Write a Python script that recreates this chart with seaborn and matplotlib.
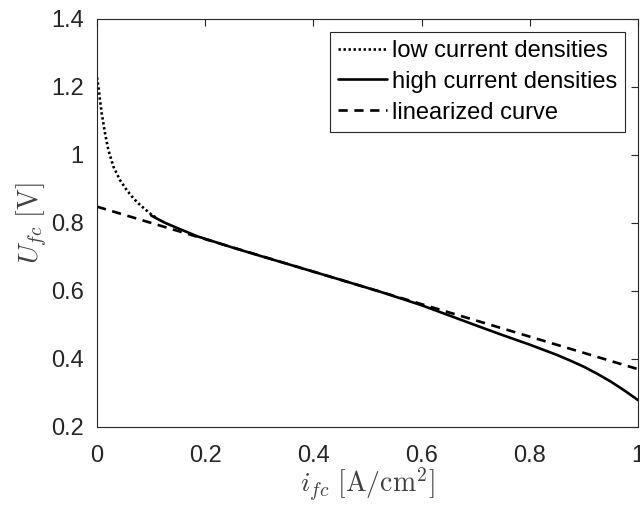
import matplotlib
matplotlib.use("Agg")
import matplotlib.pyplot as plt
import seaborn as sns
import pandas as pd

# Polarization curve of the fuel cell, read as sample points
low_i = [0.0, 0.0025, 0.0055, 0.0086, 0.0148, 0.0209, 0.0302, 0.0425, 0.0548, 0.0671, 0.0795, 0.101, 0.11]
low_u = [1.228, 1.201, 1.162, 1.123, 1.064, 1.015, 0.966, 0.926, 0.897, 0.873, 0.853, 0.824, 0.815]

high_i = [0.10, 0.125, 0.15, 0.185, 0.25, 0.30, 0.37, 0.45, 0.523, 0.60, 0.70, 0.75, 0.80,
          0.85, 0.875, 0.90, 0.925, 0.95, 0.975, 1.00]
high_u = [0.822, 0.801, 0.784, 0.761, 0.728, 0.704, 0.671, 0.633, 0.598, 0.558, 0.499, 0.470, 0.442,
          0.412, 0.395, 0.377, 0.356, 0.333, 0.307, 0.279]

lin_i = [0.0, 1.0]
lin_u = [0.848, 0.370]

x_ticks = [0, 0.2, 0.4, 0.6, 0.8, 1]
x_labels = ["0", "0.2", "0.4", "0.6", "0.8", "1"]
y_ticks = [0.2, 0.4, 0.6, 0.8, 1.0, 1.2, 1.4]
y_labels = ["0.2", "0.4", "0.6", "0.8", "1", "1.2", "1.4"]

sns.set_theme(style="white")
plt.rcParams["font.family"] = ["Liberation Sans", "DejaVu Sans"]
plt.rcParams["mathtext.fontset"] = "cm"

fig = plt.figure(figsize=(6.4, 5.05), dpi=100)
ax = fig.add_axes([0.1516, 0.1545, 0.8454, 0.8079])

low = pd.DataFrame({"i": low_i, "u": low_u})
high = pd.DataFrame({"i": high_i, "u": high_u})
lin = pd.DataFrame({"i": lin_i, "u": lin_u})

sns.lineplot(data=low, x="i", y="u", ax=ax, color="black", lw=1.9,
             linestyle=(0, (0.9, 1.0)), label="low current densities")
sns.lineplot(data=high, x="i", y="u", ax=ax, color="black", lw=1.9,
             label="high current densities")
sns.lineplot(data=lin, x="i", y="u", ax=ax, color="black", lw=1.9,
             linestyle=(0, (3.5, 2.5)), label="linearized curve")

ax.set_xlim(0, 1)
ax.set_ylim(0.2, 1.4)
ax.set_xticks(x_ticks)
ax.set_xticklabels(x_labels)
ax.set_yticks(y_ticks)
ax.set_yticklabels(y_labels)

axis_col = "#262626"
for s in ax.spines.values():
    s.set_visible(True)
    s.set_color(axis_col)
    s.set_linewidth(0.8)
ax.tick_params(direction="in", length=5, width=0.8, colors=axis_col,
               labelsize=17, top=True, right=True)
ax.tick_params(axis="x", pad=13)
ax.tick_params(axis="y", pad=9.5)

ax.set_xlabel(r"$i_{fc}\ [\mathrm{A/cm^2}]$", fontsize=20, color="#404040", labelpad=-1)
ax.set_ylabel(r"$U_{fc}\ [\mathrm{V}]$", fontsize=20, color="#404040", labelpad=1)

leg = ax.legend(loc="upper right", fontsize=17, frameon=True, fancybox=False,
                handlelength=2.1, handletextpad=0.2, labelspacing=0.38,
                borderpad=0.33, borderaxespad=0.55, framealpha=1)
leg.get_frame().set_edgecolor(axis_col)
leg.get_frame().set_linewidth(0.8)
for t in leg.get_texts():
    t.set_color("black")

fig.savefig("out.png", dpi=100)
